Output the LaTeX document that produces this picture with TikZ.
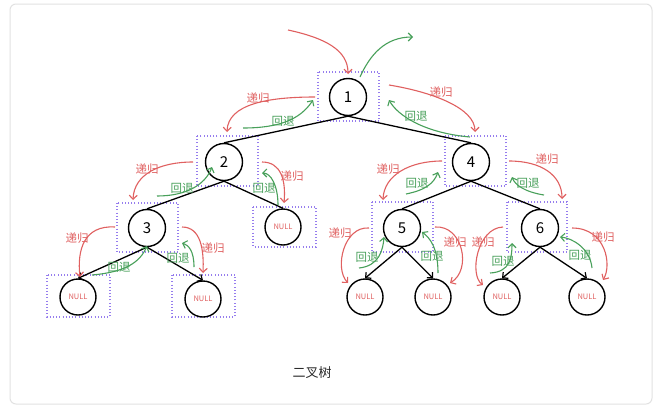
\documentclass[tikz,border=0pt]{standalone}
\usepackage{fontspec}
\setmainfont{Noto Sans CJK SC}
\usetikzlibrary{arrows.meta}
\definecolor{recred}{RGB}{224,96,96}
\definecolor{backgreen}{RGB}{72,160,90}
\definecolor{boxviolet}{RGB}{150,125,238}
\definecolor{framegray}{RGB}{226,226,226}
\tikzset{
  tnode/.style={circle,draw=black,line width=1.4pt,minimum size=37pt,inner sep=0pt,font=\fontsize{15}{15}\selectfont},
  nullnode/.style={circle,draw=black,line width=1.4pt,minimum size=36pt,inner sep=0pt,text=recred,font=\fontsize{7.5}{8}\selectfont},
  tedge/.style={line width=1.3pt,black},
  tarrow/.style={line width=1.3pt,black,-{Straight Barb[length=4pt,width=8pt,line width=1.2pt]}},
  rec/.style={line width=1.1pt,recred,-{Straight Barb[length=4pt,width=8pt,line width=1.1pt]}},
  back/.style={line width=1.1pt,backgreen,-{Straight Barb[length=4pt,width=8pt,line width=1.1pt]}},
  reclabel/.style={text=recred,font=\fontsize{11.5}{12}\selectfont,inner sep=0pt},
  backlabel/.style={text=backgreen,font=\fontsize{11.5}{12}\selectfont,inner sep=0pt},
  dotbox/.style={boxviolet,line width=1.1pt,dash pattern=on 1pt off 2.2pt}
}
\begin{document}
\begin{tikzpicture}[x=1pt,y=-1pt]
\useasboundingbox (0,0) rectangle (658,410);
\fill[white] (0,0) rectangle (658,410);
\draw[framegray,line width=1pt,rounded corners=6pt] (10,4) rectangle (652,404);

% frames around the visited nodes
\draw[dotbox] (318,72) rectangle (379,121);
\draw[dotbox] (197,136) rectangle (258,186);
\draw[dotbox] (445,136) rectangle (506,186);
\draw[dotbox] (117,203) rectangle (178,252);
\draw[dotbox] (253,207) rectangle (316,247);
\draw[dotbox] (372,202) rectangle (433,252);
\draw[dotbox] (507,202) rectangle (567,252);
\draw[dotbox] (47,275) rectangle (110,317);
\draw[dotbox] (172,275) rectangle (235,317);

% tree nodes
\node[tnode] (n1) at (348,97) {1};
\node[tnode] (n2) at (224,162) {2};
\node[tnode] (n4) at (471,162) {4};
\node[tnode] (n3) at (147,228) {3};
\node[tnode] (n5) at (402,228) {5};
\node[tnode] (n6) at (540,228) {6};
\node[nullnode] (z2) at (283,227) {NULL};
\node[nullnode] (z3a) at (78,297) {NULL};
\node[nullnode] (z3b) at (203,299) {NULL};
\node[nullnode] (z5a) at (365,297) {NULL};
\node[nullnode] (z5b) at (433,297) {NULL};
\node[nullnode] (z6a) at (502,297) {NULL};
\node[nullnode] (z6b) at (587,297) {NULL};

% tree edges
\draw[tedge] (n1.south) -- (n2.north);
\draw[tedge] (n1.south) -- (n4.north);
\draw[tedge] (n2.south) -- (n3.north);
\draw[tedge] (n2.south) -- (z2.north);
\draw[tedge] (n4.south) -- (n5.north);
\draw[tedge] (n4.south) -- (n6.north);
\draw[tarrow] (n3.south) -- (z3a.north);
\draw[tarrow] (n3.south) -- (z3b.north);
\draw[tarrow] (n5.south) -- (z5a.north);
\draw[tarrow] (n5.south) -- (z5b.north);
\draw[tarrow] (n6.south) -- (z6a.north);
\draw[tarrow] (n6.south) -- (z6b.north);

% recursion (red) and return (green) paths
\coordinate (r0s) at (288,30);  \coordinate (r0e) at (348,74);
\coordinate (g0s) at (360,77);  \coordinate (g0e) at (413,37);
\draw[rec]  (r0s) .. controls (325,38) and (348,50) .. (r0e);
\draw[back] (g0s) .. controls (370,55) and (385,37) .. (g0e);

\coordinate (r1s) at (315,97);  \coordinate (r1e) at (227,132);
\coordinate (g1s) at (243,128); \coordinate (g1e) at (313,100);
\draw[rec]  (r1s) .. controls (268,97) and (228,104) .. (r1e);
\draw[back] (g1s) .. controls (278,128) and (300,120) .. (g1e);
\node[reclabel]  (l1r) at (258,98) {递归};
\node[backlabel] (l1g) at (283,121) {回退};

\coordinate (r2s) at (389,85);  \coordinate (r2e) at (475,132);
\coordinate (g2s) at (470,137); \coordinate (g2e) at (389,100);
\draw[rec]  (r2s) .. controls (432,92) and (475,108) .. (r2e);
\draw[back] (g2s) .. controls (425,133) and (398,116) .. (g2e);
\node[reclabel]  (l2r) at (441,92) {递归};
\node[backlabel] (l2g) at (416,116) {回退};

\coordinate (r3s) at (193,162); \coordinate (r3e) at (133,200);
\coordinate (g3s) at (157,196); \coordinate (g3e) at (212,167);
\draw[rec]  (r3s) .. controls (160,162) and (134,174) .. (r3e);
\draw[back] (g3s) .. controls (186,196) and (205,185) .. (g3e);
\node[reclabel]  (l3r) at (147,169) {递归};
\node[backlabel] (l3g) at (182,188) {回退};

\coordinate (r4s) at (262,162); \coordinate (r4e) at (284,203);
\coordinate (g4s) at (278,205); \coordinate (g4e) at (262,173);
\draw[rec]  (r4s) .. controls (281,162) and (286,180) .. (r4e);
\draw[back] (g4s) .. controls (278,186) and (271,173) .. (g4e);
\node[reclabel]  (l4r) at (292,176) {递归};
\node[backlabel] (l4g) at (264,188) {回退};

\coordinate (r5s) at (115,227); \coordinate (r5e) at (80,277);
\coordinate (g5s) at (92,275);  \coordinate (g5e) at (147,246);
\draw[rec]  (r5s) .. controls (84,225) and (77,250) .. (r5e);
\draw[back] (g5s) .. controls (126,272) and (140,262) .. (g5e);
\node[reclabel]  (l5r) at (77,238) {递归};
\node[backlabel] (l5g) at (119,267) {回退};

\coordinate (r6s) at (182,227); \coordinate (r6e) at (203,273);
\coordinate (g6s) at (194,267); \coordinate (g6e) at (182,243);
\draw[rec]  (r6s) .. controls (201,227) and (204,250) .. (r6e);
\draw[back] (g6s) .. controls (194,250) and (188,245) .. (g6e);
\node[reclabel]  (l6r) at (213,248) {递归};
\node[backlabel] (l6g) at (178,258) {回退};

\coordinate (r7s) at (442,161); \coordinate (r7e) at (383,200);
\coordinate (g7s) at (406,194); \coordinate (g7e) at (438,172);
\draw[rec]  (r7s) .. controls (410,161) and (384,175) .. (r7e);
\draw[back] (g7s) .. controls (426,190) and (434,183) .. (g7e);
\node[reclabel]  (l7r) at (388,169) {递归};
\node[backlabel] (l7g) at (417,183) {回退};

\coordinate (r8s) at (509,161); \coordinate (r8e) at (562,199);
\coordinate (g8s) at (544,195); \coordinate (g8e) at (512,177);
\draw[rec]  (r8s) .. controls (541,161) and (562,175) .. (r8e);
\draw[back] (g8s) .. controls (525,192) and (515,185) .. (g8e);
\node[reclabel]  (l8r) at (547,159) {递归};
\node[backlabel] (l8g) at (528,183) {回退};

\coordinate (r9s) at (369,228); \coordinate (r9e) at (348,283);
\coordinate (g9s) at (359,268); \coordinate (g9e) at (384,237);
\draw[rec]  (r9s) .. controls (344,226) and (334,268) .. (r9e);
\draw[back] (g9s) .. controls (379,266) and (383,250) .. (g9e);
\node[reclabel]  (l9r) at (340,233) {递归};
\node[backlabel] (l9g) at (367,257) {回退};

\coordinate (r10s) at (435,227); \coordinate (r10e) at (450,283);
\coordinate (g10s) at (438,273); \coordinate (g10e) at (422,232);
\draw[rec]  (r10s) .. controls (463,225) and (472,270) .. (r10e);
\draw[back] (g10s) .. controls (438,248) and (430,238) .. (g10e);
\node[reclabel]  (l10r) at (455,242) {递归};
\node[backlabel] (l10g) at (432,256) {回退};

\coordinate (r11s) at (503,227); \coordinate (r11e) at (483,285);
\coordinate (g11s) at (490,273); \coordinate (g11e) at (512,243);
\draw[rec]  (r11s) .. controls (477,228) and (469,275) .. (r11e);
\draw[back] (g11s) .. controls (510,272) and (512,258) .. (g11e);
\node[reclabel]  (l11r) at (483,242) {递归};
\node[backlabel] (l11g) at (503,261) {回退};

\coordinate (r12s) at (572,228); \coordinate (r12e) at (603,280);
\coordinate (g12s) at (592,268); \coordinate (g12e) at (560,237);
\draw[rec]  (r12s) .. controls (606,228) and (612,265) .. (r12e);
\draw[back] (g12s) .. controls (590,248) and (572,238) .. (g12e);
\node[reclabel]  (l12r) at (603,237) {递归};
\node[backlabel] (l12g) at (580,255) {回退};

% caption
\node[font=\fontsize{13}{13}\selectfont,text={rgb,255:red,40;green,40;blue,40}] (cap) at (312,373) {二叉树};
\end{tikzpicture}
\end{document}
